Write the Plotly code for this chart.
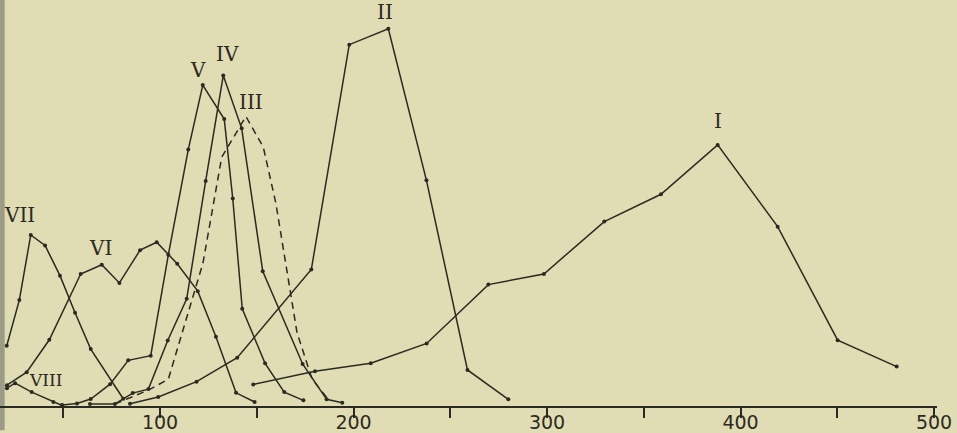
import plotly.graph_objects as go

# ---- data ----
I_x = [148.2, 180.1, 208.9, 237.8, 269.7, 298.4, 329.6, 358.9, 388.2, 419.2, 450.2, 480.7]
I_y = [2.17, 3.5, 4.3, 6.3, 12.23, 13.3, 18.58, 21.33, 26.3, 18.07, 6.63, 3.97]

II_x = [84.5, 99.1, 118.9, 139.9, 178.2, 197.8, 218.0, 237.7, 258.9, 280.0]
II_y = [0.23, 0.9, 2.45, 4.87, 13.75, 36.4, 38.0, 22.73, 3.63, 0.67]

III_x = [76.7, 94.0, 104.3, 122.2, 131.9, 144.4, 153.4, 159.9, 170.8, 178.6, 186.8]
III_y = [0.2, 1.6, 2.7, 14.4, 25.07, 29.17, 26.07, 20.4, 7.4, 2.7, 0.7]

IV_x = [63.8, 76.7, 85.9, 94.0, 104.0, 113.8, 123.6, 132.7, 142.2, 153.1, 173.7, 186.1, 194.2]
IV_y = [0.2, 0.2, 1.3, 1.7, 6.6, 10.8, 22.67, 33.3, 27.97, 13.57, 4.23, 0.67, 0.33]

V_x = [49.4, 57.1, 64.2, 74.2, 83.6, 95.2, 104.3, 114.6, 122.1, 133.2, 137.6, 142.5, 154.3, 164.2, 174.1]
V_y = [0.1, 0.25, 0.7, 2.2, 4.6, 5.07, 15.23, 25.83, 32.33, 28.9, 20.9, 9.8, 4.3, 1.4, 0.57]

VI_x = [20.9, 31.1, 42.8, 59.0, 69.9, 79.0, 89.7, 98.3, 108.9, 119.5, 128.9, 139.3, 148.9]
VI_y = [2.1, 3.4, 6.67, 13.3, 14.23, 12.4, 15.7, 16.5, 14.33, 11.57, 6.97, 1.33, 0.4]

VII_x = [20.8, 27.3, 33.2, 40.6, 48.3, 56.1, 64.2, 81.0]
VII_y = [6.07, 10.67, 17.23, 16.17, 13.13, 9.4, 5.73, 0.73]

VIII_x = [20.9, 25.1, 33.7, 44.9, 49.4]
VIII_y = [1.8, 2.3, 1.4, 0.4, 0.05]

label_text = ["I", "II", "III", "IV", "V", "VI", "VII", "VIII"]
label_x = [388.2, 216.3, 147.0, 135.0, 119.8, 69.0, 27.5, 40.6]
label_y = [28.7, 39.7, 30.6, 35.5, 33.8, 15.9, 19.2, 2.6]

tick_vals = [50, 100, 150, 200, 250, 300, 350, 400, 450, 500]
tick_text = ["", "100", "", "200", "", "300", "", "400", "", "500"]

INK = "#2b2a22"
BG = "#e0dcb3"

fig = go.Figure()

solid = [(I_x, I_y), (II_x, II_y), (IV_x, IV_y), (V_x, V_y),
         (VI_x, VI_y), (VII_x, VII_y), (VIII_x, VIII_y)]
for xs, ys in solid:
    fig.add_trace(go.Scatter(x=xs, y=ys, mode="lines+markers",
                             line=dict(color=INK, width=1.5),
                             marker=dict(color=INK, size=4),
                             cliponaxis=False, showlegend=False))

fig.add_trace(go.Scatter(x=III_x, y=III_y, mode="lines",
                         line=dict(color=INK, width=1.5, dash="7px,5px"),
                         cliponaxis=False, showlegend=False))

for t, x, y in zip(label_text, label_x, label_y):
    fig.add_annotation(x=x, y=y, text=t, showarrow=False,
                       font=dict(family="DejaVu Serif", size=20 if t != "VIII" else 17,
                                 color=INK))

fig.add_shape(type="rect", xref="paper", yref="paper", x0=0, x1=0.005,
              y0=-0.06, y1=1, fillcolor="#9c9b86", line=dict(width=0), layer="below")

fig.update_layout(
    width=957, height=433,
    margin=dict(l=0, r=20, t=0, b=24),
    paper_bgcolor=BG, plot_bgcolor=BG,
    xaxis=dict(range=[17.31, 501.55], showgrid=False, zeroline=False,
               showline=True, linecolor=INK, linewidth=2,
               ticks="outside", ticklen=10, tickwidth=1.5, tickcolor=INK,
               tickvals=tick_vals, ticktext=tick_text,
               ticklabelstandoff=-12,
               tickfont=dict(family="DejaVu Sans", size=19, color=INK)),
    yaxis=dict(range=[0, 40.9], visible=False),
)

fig.write_html("out.html", config={"displayModeBar": False},
               post_script="document.body.style.margin='0';document.body.style.background='#e0dcb3';")
